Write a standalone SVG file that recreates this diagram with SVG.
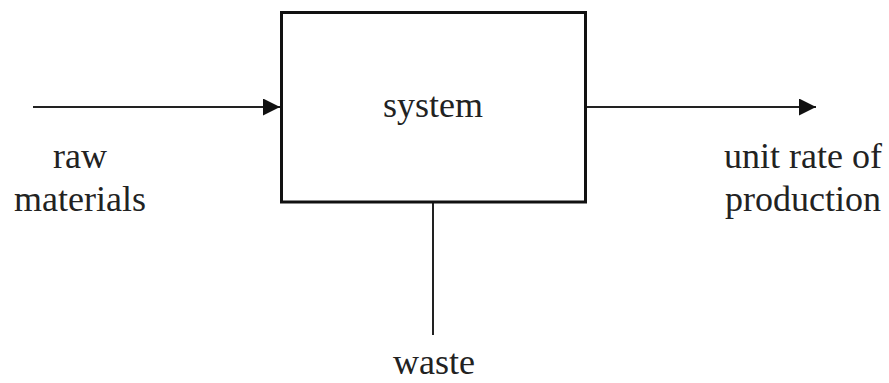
<svg xmlns="http://www.w3.org/2000/svg" width="889" height="383" viewBox="0 0 889 383">
<style>
text{font-family:"Liberation Serif","Times New Roman",serif;font-size:36px;fill:#222;text-anchor:middle}
.ln{stroke:#222;stroke-width:2;fill:none}
</style>
<defs>
<marker id="ah" markerUnits="userSpaceOnUse" markerWidth="18" markerHeight="18" refX="17" refY="8.5" orient="auto">
<path d="M0,0 L17,8.5 L0,17 Z" fill="#111"/>
</marker>
</defs>
<rect width="889" height="383" fill="#fff"/>
<g id="connectors">
<line class="ln" x1="33" y1="107" x2="280" y2="107" marker-end="url(#ah)"/>
<line class="ln" x1="587" y1="107" x2="816" y2="107" marker-end="url(#ah)"/>
<line class="ln" x1="433" y1="203" x2="433" y2="335"/>
</g>
<g id="system">
<rect x="281.5" y="12.5" width="304" height="189.5" fill="#fff" stroke="#111" stroke-width="3"/>
<text x="433" y="117">system</text>
</g>
<g id="raw-materials">
<text x="80" y="168">raw</text>
<text x="80" y="211">materials</text>
</g>
<g id="output">
<text x="803" y="168">unit rate of</text>
<text x="803" y="211">production</text>
</g>
<g id="waste">
<text x="434" y="374">waste</text>
</g>
</svg>
